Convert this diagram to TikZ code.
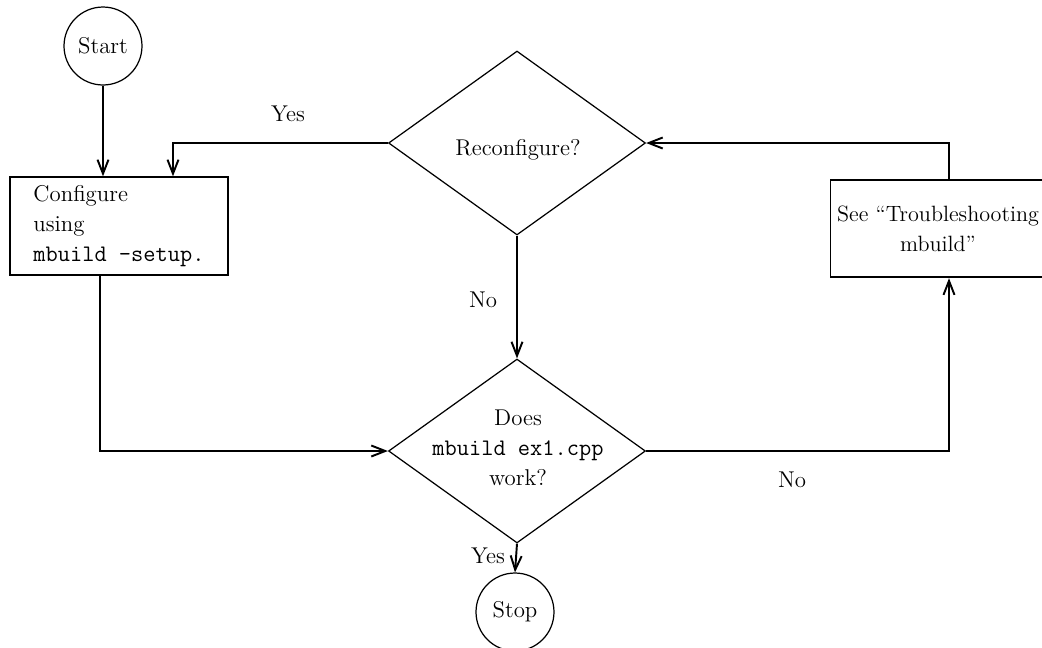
\documentclass[tikz,border=0pt]{standalone}
\usepackage{tikz}
\usetikzlibrary{arrows.meta, positioning, shapes.geometric, calc}

\begin{document}
\begin{tikzpicture}[
  x=0.02cm, y=-0.02cm,
  txt/.style      = {font=\fontsize{13}{17}\selectfont, inner sep=0pt},
  term/.style     = {circle, draw, line width=0.7pt, minimum size=1.56cm,
                     inner sep=0pt, font=\fontsize{13}{17}\selectfont},
  procbox/.style  = {rectangle, draw, line width=1.1pt, minimum height=1.95cm,
                     font=\fontsize{13}{17}\selectfont},
  decision/.style = {diamond, draw, line width=0.7pt, inner sep=0pt,
                     minimum width=5.14cm, minimum height=3.68cm},
  arr/.style      = {-{Straight Barb[length=2.8mm, width=2.2mm]},
                     line width=1.1pt},
]
\clip (0,0) rectangle (1042,647);

%% ── terminals and boxes ─────────────────────────────────────────────────────
\node[term] (start) at (103,46) {Start};

\node[procbox, minimum width=4.36cm, align=left] (cfg) at (119,226)
  {Configure\\using\\{\fontsize{13.5}{17}\selectfont\ttfamily mbuild -setup.}};

\node[procbox, minimum width=4.3cm, align=center, inner xsep=0pt,
      font=\fontsize{12.6}{17}\selectfont] (trbl) at (938,228.5)
  {See ``Troubleshooting\\mbuild''};

\node[decision] (recfg) at (517,143) {};
\node[txt] (recfgtxt) at (518,150) {Reconfigure?};

\node[decision] (does) at (517,451) {};
\node[txt, align=center] (doestxt) at (518,448)
  {Does\\{\fontsize{13.5}{17}\selectfont\ttfamily mbuild ex1.cpp}\\work?};

\node[term] (stop) at (515,612) {Stop};

%% ── labels ──────────────────────────────────────────────────────────────────
\node[txt] (yesup)  at (288,114) {Yes};
\node[txt] (nomid)  at (483,300) {No};
\node[txt] (noright) at (792,480) {No};
\node[txt] (yesdn)  at (488,556) {Yes};

%% ── connectors ──────────────────────────────────────────────────────────────
\draw[arr] (start) -- (start |- cfg.north);
\draw[arr] (recfg.west) -| ([xshift=1.08cm]cfg.north);
\draw[arr] (recfg.south) -- (does.north);
\draw[arr] ([xshift=-0.38cm]cfg.south) |- (does.west);
\draw[arr] (does.east) -| ([xshift=0.22cm]trbl.south);
\draw[arr] ([xshift=0.22cm]trbl.north) |- (recfg.east);
\draw[arr] (does.south) -- (stop.north);

\end{tikzpicture}
\end{document}
